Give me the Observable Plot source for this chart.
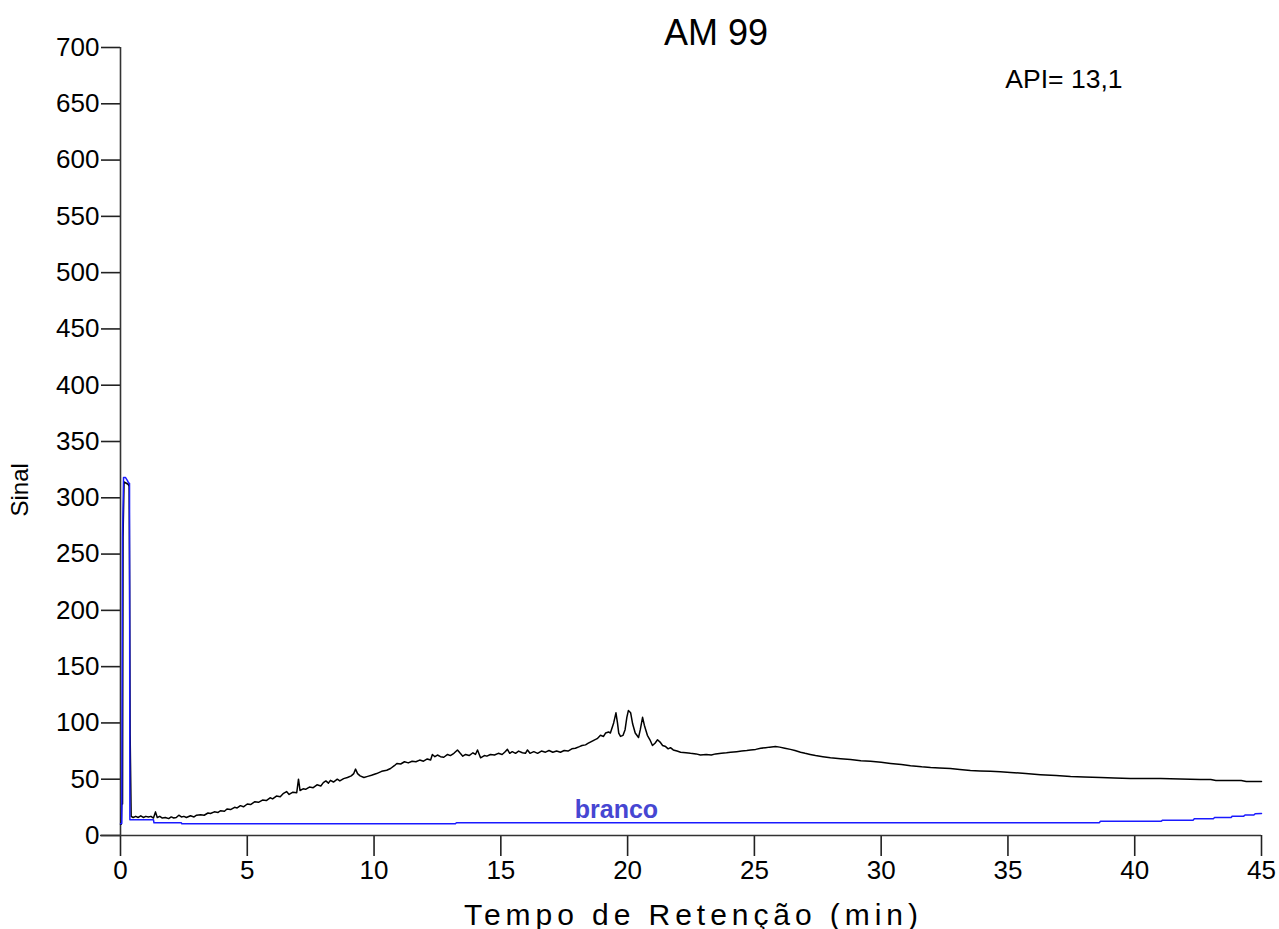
<!DOCTYPE html>
<html>
<head>
<meta charset="utf-8">
<script src="https://cdn.jsdelivr.net/npm/d3@7"></script>
<script src="https://cdn.jsdelivr.net/npm/@observablehq/plot@0.6"></script>
<style>
  html, body { margin: 0; padding: 0; background: #fff; }
  #chart { width: 1279px; height: 929px; }
  #chart svg { font-family: "Liberation Sans", Arial, sans-serif; }
</style>
</head>
<body>
<div id="chart"></div>
<script>
const title = "AM 99";
const apiText = "API= 13,1";
const xLabel = "Tempo de Retenção (min)";
const yLabel = "Sinal";
const blankLabel = "branco";

const xTicks = [0, 5, 10, 15, 20, 25, 30, 35, 40, 45];
const yTicks = [0, 50, 100, 150, 200, 250, 300, 350, 400, 450, 500, 550, 600, 650, 700];

// Sample (black) trace
const sampleTime = [0,0.03,0.05,0.08,0.1,0.14,0.3,0.34,0.36,0.38,0.42,0.5,0.6,0.7,0.8,0.9,1.0,1.1,1.2,1.3,1.38,1.45,1.55,1.65,1.77,1.9,2.0,2.1,2.2,2.3,2.4,2.5,2.6,2.76,2.9,3.0,3.16,3.3,3.45,3.55,3.7,3.85,3.94,4.1,4.2,4.34,4.5,4.6,4.73,4.85,5.0,5.13,5.3,5.44,5.6,5.75,5.9,6.0,6.15,6.3,6.43,6.55,6.65,6.8,6.95,7.02,7.08,7.2,7.3,7.45,7.6,7.75,7.9,8.0,8.1,8.2,8.28,8.4,8.55,8.65,8.8,8.95,9.1,9.2,9.27,9.35,9.45,9.6,9.75,9.9,10.1,10.3,10.5,10.65,10.8,10.9,11.05,11.2,11.35,11.5,11.65,11.8,11.95,12.1,12.23,12.3,12.4,12.5,12.62,12.75,12.9,13.01,13.15,13.29,13.4,13.5,13.61,13.75,13.9,14.0,14.08,14.2,14.35,14.45,14.59,14.75,14.9,15.05,15.15,15.26,15.35,15.45,15.58,15.7,15.85,15.97,16.05,16.15,16.3,16.45,16.6,16.76,16.9,17.05,17.2,17.35,17.5,17.65,17.8,17.94,18.1,18.2,18.34,18.45,18.53,18.7,18.8,18.93,19.05,19.13,19.25,19.32,19.45,19.54,19.6,19.65,19.72,19.82,19.9,19.97,20.03,20.12,20.2,20.3,20.43,20.5,20.59,20.66,20.78,20.88,20.98,21.08,21.18,21.28,21.38,21.5,21.6,21.69,21.8,21.95,22.09,22.3,22.48,22.7,22.87,23.1,23.3,23.47,23.7,23.9,24.06,24.3,24.5,24.7,24.85,25.05,25.25,25.44,25.6,25.83,26.0,26.2,26.42,26.6,26.82,27.0,27.2,27.41,27.7,28.0,28.4,28.79,29.2,29.58,30.0,30.37,30.8,31.16,31.6,31.95,32.3,32.73,33.1,33.52,33.9,34.31,34.7,35.1,35.7,36.28,36.9,37.47,38.0,38.65,39.2,39.83,40.4,41.02,41.8,42.59,43.0,43.2,44.2,44.4,45];
const sampleSignal = [10,10,28,28,265,314,312,310,222,90,17,16,17,16,17.5,16,17,16.5,17,15.5,21,16,17,15.5,16,15,16.5,15.5,16,18,16.5,17,16,17.5,16.5,18,18.5,18,20,19.5,21,20.5,22,21.5,23.5,23,25,24.5,26.5,25.5,28,27.5,30,29.5,31.5,31,33.5,32.5,35,34.5,37.5,39,36.5,38.5,38,50,40,41.5,41,43,42.5,45,44,47,48.5,46.5,49,47.5,50,48.5,50.5,51.5,53,55,59,55,53,51.5,52.5,53.5,55,57,58,59.5,62,64,63.5,65.5,64.5,66,65.5,67,66,68,67,72,70,71.5,70,69.5,72,71,73,76,73,70.5,72,71,73.5,72,76,69,71,70.5,72,71.5,73,72,74,76.5,73,74.5,73,75,73.5,73,76,73,74.5,73,75,74,75.5,74,75,74,75.5,75,77,77.5,79,80,80.5,82,83,85,86,89,88,91,92,91,100,109,100,91,88,89,94,105,111,109,99,91,87,94,105,98,89,85,80,82,85,83,80,79,77,78,76,75,74,73.5,73,72.5,71.5,72,71.5,72.5,73,73.5,74,74.5,75,75.5,76,76.5,77.5,78,78.5,79,78.5,77.5,76.5,75.5,74,73,72,71,70,69,68.2,67.5,66.5,66,65,64,63,62,61,60.4,60,59.5,58.6,57.7,57.3,57,56.6,56,55,54,53.2,52.4,52,51.5,51,50.6,50.6,50.6,50.2,49.7,49.7,48.9,48.9,48,48];

// Blank (blue) trace
const blankTime = [0,0.05,0.08,0.12,0.2,0.28,0.32,0.355,0.37,0.45,1.3,1.32,2.4,2.42,13.2,13.25,38.6,38.65,41.05,41.1,42.3,42.35,43.1,43.15,43.8,43.85,44.3,44.35,44.7,44.75,45];
const blankSignal = [10.5,10.7,265,318,318,315,313,313,14,14,14,11.3,11.3,10.4,10.4,11.3,11.3,12.7,12.7,13.6,13.6,14.9,14.9,16.0,16.0,17.2,17.2,18.2,18.2,19.3,19.5];

const sample = sampleTime.map((t, i) => ({t, v: sampleSignal[i]}));
const blank = blankTime.map((t, i) => ({t, v: blankSignal[i]}));

const font = "Liberation Sans, Arial, sans-serif";

const chart = Plot.plot({
  width: 1279,
  height: 929,
  marginLeft: 120,
  marginRight: 18,
  marginTop: 47,
  marginBottom: 94,
  style: {fontFamily: font, color: "#000", background: "#fff", overflow: "visible"},
  x: {domain: [0, 45], label: null},
  y: {domain: [0, 700], label: null},
  marks: [
    Plot.axisX({ticks: xTicks, tickSize: 21, tickPadding: 4, fontSize: 26, strokeWidth: 1.6, stroke: "#222", label: null, fill: "#000"}),
    Plot.axisY({ticks: yTicks, tickSize: 19, tickPadding: 2, fontSize: 26, strokeWidth: 1.6, stroke: "#222", label: null, fill: "#000"}),
    Plot.ruleY([0], {stroke: "#333", strokeWidth: 1.6, insetLeft: -20}),
    Plot.ruleX([0], {stroke: "#333", strokeWidth: 1.6}),
    Plot.line(sample, {x: "t", y: "v", stroke: "#000", strokeWidth: 1.5}),
    Plot.line(blank, {x: "t", y: "v", stroke: "#1a1aff", strokeWidth: 1.5}),
    Plot.text([blankLabel], {x: 19.56, y: 23, text: d => d, fill: "#4646d2", fontSize: 25, fontWeight: "bold", fontFamily: font}),
    Plot.text([title], {frameAnchor: "top", lineAnchor: "middle", dx: 25, dy: -14, text: d => d, fontSize: 36, fill: "#000", fontFamily: font}),
    Plot.text([apiText], {frameAnchor: "top-right", lineAnchor: "middle", dx: -139, dy: 32, textAnchor: "end", text: d => d, fontSize: 26.5, fill: "#000", fontFamily: font}),
    Plot.text([yLabel], {frameAnchor: "left", lineAnchor: "middle", dx: -100, dy: 75, rotate: -90, text: d => d, fontSize: 24, fill: "#000", fontFamily: font}),
    Plot.text([xLabel], {frameAnchor: "bottom", lineAnchor: "middle", dx: 0, dy: 80, text: d => d, fontSize: 30, fill: "#000", fontFamily: font})
  ]
});
document.getElementById("chart").appendChild(chart);
// stretch the x-axis label to the width it has in the reference
d3.select(chart).selectAll("text")
  .filter(function() { return this.textContent === xLabel; })
  .attr("textLength", 454)
  .attr("lengthAdjust", "spacing");
</script>
</body>
</html>
